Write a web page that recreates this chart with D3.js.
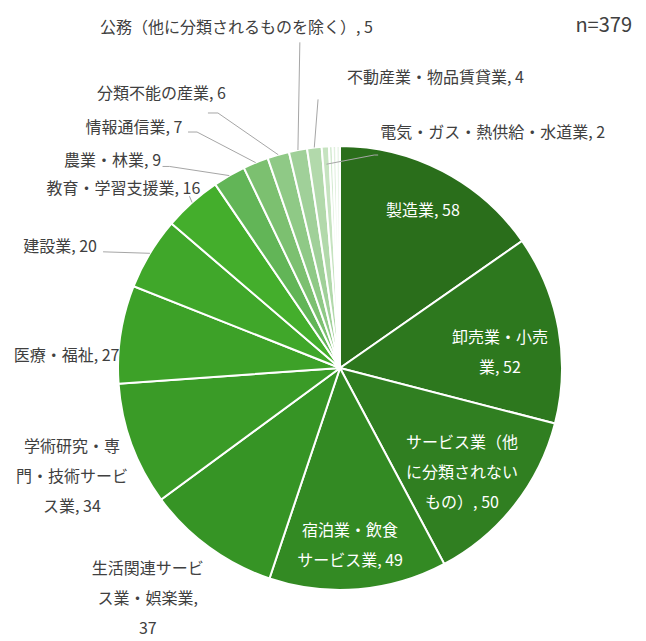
<!DOCTYPE html>
<html>
<head>
<meta charset="utf-8">
<script src="https://cdn.jsdelivr.net/npm/d3@7"></script>
<style>
  body { margin: 0; background: #fff; }
  text { font-family: "Noto Sans CJK JP", "Noto Sans", sans-serif; }
</style>
</head>
<body>
<svg id="chart"></svg>
<script>
// industries, clockwise from 12 o'clock (last three tiny slices carry no label)
const industries = ["製造業", "卸売業・小売業", "サービス業（他に分類されないもの）", "宿泊業・飲食サービス業",
  "生活関連サービス業・娯楽業", "学術研究・専門・技術サービス業", "医療・福祉", "建設業", "教育・学習支援業",
  "農業・林業", "情報通信業", "分類不能の産業", "公務（他に分類されるものを除く）", "不動産業・物品賃貸業",
  "電気・ガス・熱供給・水道業", "", "", ""];
const counts = [58, 52, 50, 49, 37, 34, 27, 20, 16, 9, 7, 6, 5, 4, 2, 1, 1, 1];

// where each label text wraps (character index)
const wrapAt = [[], [6], [7, 14], [6], [7, 14], [6, 13], [], [], [], [], [], [], [], [], [], [], [], []];

// slice colours
const palette = ["#2a6e1b", "#2d781e", "#307f21", "#338a23", "#369425", "#3a9b27", "#3da128", "#40a72a",
  "#44ae2c", "#62b557", "#7cc070", "#8fc986", "#a0d099", "#b2d9ab", "#c6e3c0", "#d3ead0", "#e0f0de", "#ebf6ea"];

// label placement: radius factor and angle shift (deg) from slice middle
const labelR     = [0.804, 0.724, 0.722, 0.80, 1.35, 1.302, 1.233, 1.374, 1.268, 1.387, 1.428, 1.477, 1.604, 1.378, 1.266];
const labelShift = [0.15, 4.5, 2.2, 1.5, 3.8, -1.75, -6.1, -7.7, -8.5, -17.7, -18.2, -16.85, -6.0, 24.85, 36.7];
const labelInside = [true, true, true, true];

// leader lines: start offset from label centre, horizontal stub, end radius factor
const leaders = [
  {i: 7,  off: [43, 5],     stub: 0,  endR: 1.0},
  {i: 8,  off: [66, 8],     stub: 0,  endR: 1.0},
  {i: 9,  off: [50, 6],     stub: 7,  endR: 1.0},
  {i: 10, off: [54, 5],     stub: 9,  endR: 1.0},
  {i: 11, off: [46.5, 20],  stub: 10, endR: 1.0},
  {i: 12, off: [63.5, 15],  stub: 0,  endR: 1.0},
  {i: 13, off: [-117.5, 22], stub: 0, endR: 1.0},
  {i: 14, off: [-114.5, 23], stub: 4, endR: 0.92}
];

const width = 646, height = 641;
const cx = 340, cy = 368, radius = 222;
const lineGap = 30;

const svg = d3.select('#chart')
  .attr('width', width)
  .attr('height', height)
  .style('background-color', '#fff');

const g = svg.append('g').attr('transform', 'translate(' + cx + ',' + cy + ')');

const pie = d3.pie().sort(null).value(d => d);
const arcs = pie(counts);
const arc = d3.arc().innerRadius(0).outerRadius(radius);

//slices
g.selectAll('path.slice')
  .data(arcs)
  .enter()
  .append('path')
    .attr('class', 'slice')
    .attr('d', arc)
    .style('fill', (d, i) => palette[i])
    .style('stroke', '#fff')
    .style('stroke-width', 2);

const polar = (ang, r) => [r * Math.sin(ang), -r * Math.cos(ang)];
const mid = d => (d.startAngle + d.endAngle) / 2;
const deg = Math.PI / 180;

// label centres
const labelPos = labelR.map((k, i) => polar(mid(arcs[i]) + labelShift[i] * deg, k * radius));

//leader lines
const line = d3.line();
leaders.forEach(l => {
  const p = labelPos[l.i];
  const s = [p[0] + l.off[0], p[1] + l.off[1]];
  const pts = [s];
  if (l.stub) pts.push([s[0] + (l.off[0] > 0 ? l.stub : -l.stub), s[1]]);
  pts.push(polar(mid(arcs[l.i]), radius * l.endR));
  g.append('path')
    .attr('d', line(pts))
    .style('fill', 'none')
    .style('stroke', '#a6a6a6')
    .style('stroke-width', 1);
});

//labels
labelR.forEach((k, i) => {
  const full = industries[i] + ', ' + counts[i];
  const cuts = [0].concat(wrapAt[i], [full.length]);
  const lines = [];
  for (let j = 0; j < cuts.length - 1; j++) lines.push(full.slice(cuts[j], cuts[j + 1]).trim());
  const t = g.append('text')
    .attr('text-anchor', 'middle')
    .style('font-size', '16px')
    .style('fill', labelInside[i] ? '#fff' : '#404040');
  lines.forEach((s, j) => {
    t.append('tspan')
      .attr('x', labelPos[i][0])
      .attr('y', labelPos[i][1] + (j - (lines.length - 1) / 2) * lineGap)
      .attr('dy', '0.35em')
      .text(s);
  });
});

//sample size
svg.append('text')
  .attr('x', 632)
  .attr('y', 25)
  .attr('dy', '0.35em')
  .attr('text-anchor', 'end')
  .style('font-size', '20px')
  .style('fill', '#404040')
  .text('n=' + d3.sum(counts));
</script>
</body>
</html>
